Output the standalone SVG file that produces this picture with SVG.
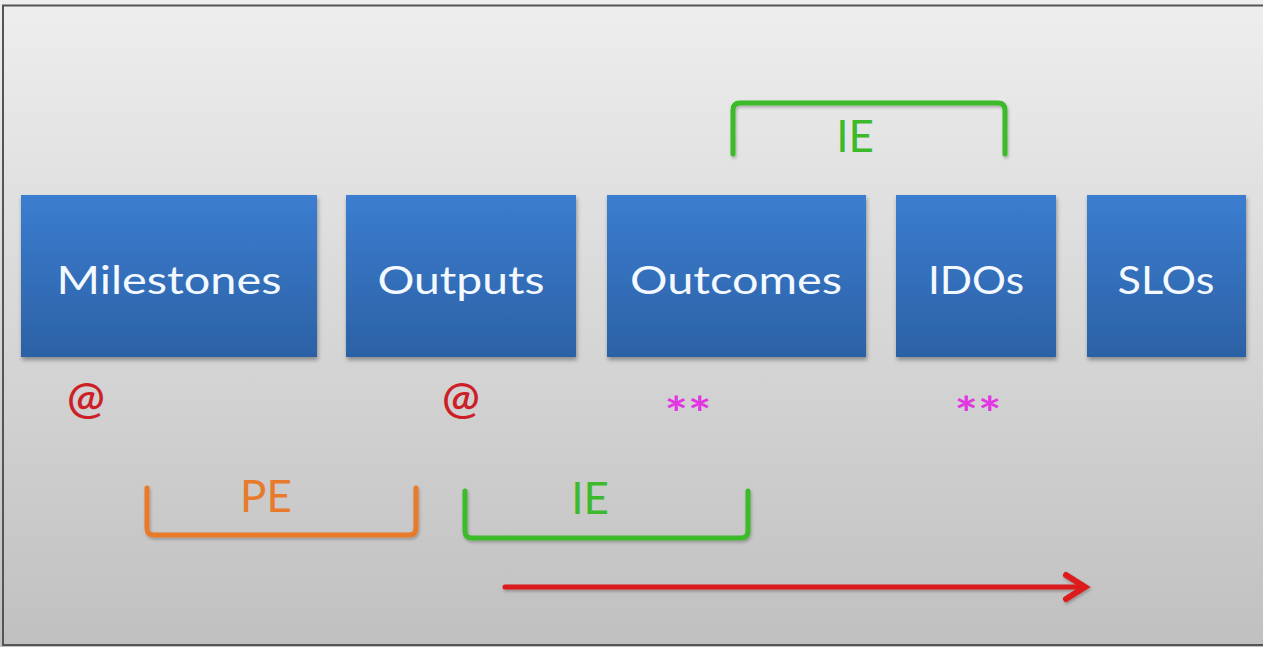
<svg xmlns="http://www.w3.org/2000/svg" width="1263" height="647" viewBox="0 0 1263 647">
  <defs>
    <linearGradient id="bg" x1="0" y1="0" x2="0" y2="1">
      <stop offset="0" stop-color="#eeeeee"/>
      <stop offset="1" stop-color="#c0c0c0"/>
    </linearGradient>
    <linearGradient id="boxFill" x1="0" y1="0" x2="0" y2="1">
      <stop offset="0" stop-color="#3b7dd0"/>
      <stop offset="1" stop-color="#2c61a5"/>
    </linearGradient>
    <filter id="shadow" x="-10%" y="-10%" width="120%" height="130%">
      <feDropShadow dx="1" dy="3" stdDeviation="2" flood-color="#000" flood-opacity="0.35"/>
    </filter>
    <filter id="soft" x="-10%" y="-30%" width="120%" height="160%">
      <feDropShadow dx="1" dy="2" stdDeviation="1.5" flood-color="#000" flood-opacity="0.25"/>
    </filter>
  </defs>
  <style>
    .box { fill: url(#boxFill); filter: url(#shadow); }
    .label { font-family: Lato, "Open Sans", "Liberation Sans", sans-serif; font-size: 38px; fill: #f4f8ff; text-anchor: middle; }
    .brace { fill: none; stroke-width: 5; stroke-linecap: round; stroke-linejoin: round; filter: url(#soft); }
    .tag { font-family: Lato, "Open Sans", "Liberation Sans", sans-serif; font-size: 44px; text-anchor: middle; }
    .at { font-family: Lato, "Open Sans", "Liberation Sans", sans-serif; font-size: 45px; font-weight: 600; fill: #cc1f27; text-anchor: middle; }
    .star { font-family: Lato, "Open Sans", "Liberation Sans", sans-serif; font-size: 46px; font-weight: bold; fill: #e236e2; text-anchor: middle; }
  </style>

  <!-- background panel with frame -->
  <rect x="0" y="0" width="1263" height="647" fill="url(#bg)"/>
  <rect x="3" y="5.5" width="1264" height="639.5" fill="none" stroke="#555555" stroke-width="2"/>

  <g id="node-milestones">
    <rect class="box" x="21" y="195" width="296" height="162"/>
    <text class="label" x="169" y="294" textLength="225" lengthAdjust="spacingAndGlyphs">Milestones</text>
  </g>
  <g id="node-outputs">
    <rect class="box" x="346" y="195" width="230" height="162"/>
    <text class="label" x="461" y="294" textLength="167" lengthAdjust="spacingAndGlyphs">Outputs</text>
  </g>
  <g id="node-outcomes">
    <rect class="box" x="607" y="195" width="259" height="162"/>
    <text class="label" x="736" y="294" textLength="212" lengthAdjust="spacingAndGlyphs">Outcomes</text>
  </g>
  <g id="node-idos">
    <rect class="box" x="896" y="195" width="160" height="162"/>
    <text class="label" x="976" y="294" textLength="96" lengthAdjust="spacingAndGlyphs">IDOs</text>
  </g>
  <g id="node-slos">
    <rect class="box" x="1087" y="195" width="159" height="162"/>
    <text class="label" x="1166" y="294" textLength="97" lengthAdjust="spacingAndGlyphs">SLOs</text>
  </g>

  <!-- markers under the boxes -->
  <g id="markers">
    <text class="at" x="86" y="414">@</text>
    <text class="at" x="461" y="414">@</text>
    <text class="star" x="688" y="430" textLength="47" lengthAdjust="spacingAndGlyphs">**</text>
    <text class="star" x="978" y="430" textLength="47" lengthAdjust="spacingAndGlyphs">**</text>
  </g>

  <g id="connectors">
    <!-- IE span over Outcomes..IDOs -->
    <path class="brace" stroke="#3dba2b" d="M733,154 L733,110 Q733,103 740,103 L998,103 Q1005,103 1005,110 L1005,154"/>
    <!-- PE span under Milestones..Outputs -->
    <path class="brace" stroke="#e87a2c" d="M147,488 L147,528 Q147,535 154,535 L409,535 Q416,535 416,528 L416,488"/>
    <!-- IE span under Outputs..Outcomes -->
    <path class="brace" stroke="#3dba2b" d="M465,491 L465,531 Q465,538 472,538 L741,538 Q748,538 748,531 L748,491"/>
    <!-- direction arrow -->
    <g filter="url(#soft)">
      <line x1="505" y1="587" x2="1083" y2="587" stroke="#dc1a1a" stroke-width="5" stroke-linecap="round"/>
      <path d="M1066,575 L1085,587 L1066,599" fill="none" stroke="#dc1a1a" stroke-width="6" stroke-linecap="round" stroke-linejoin="miter"/>
    </g>
  </g>

  <g id="span-labels">
    <text class="tag" x="855" y="152" fill="#3dba2b">IE</text>
    <text class="tag" x="266" y="512" fill="#e87a2c">PE</text>
    <text class="tag" x="590" y="514" fill="#3dba2b">IE</text>
  </g>
</svg>
